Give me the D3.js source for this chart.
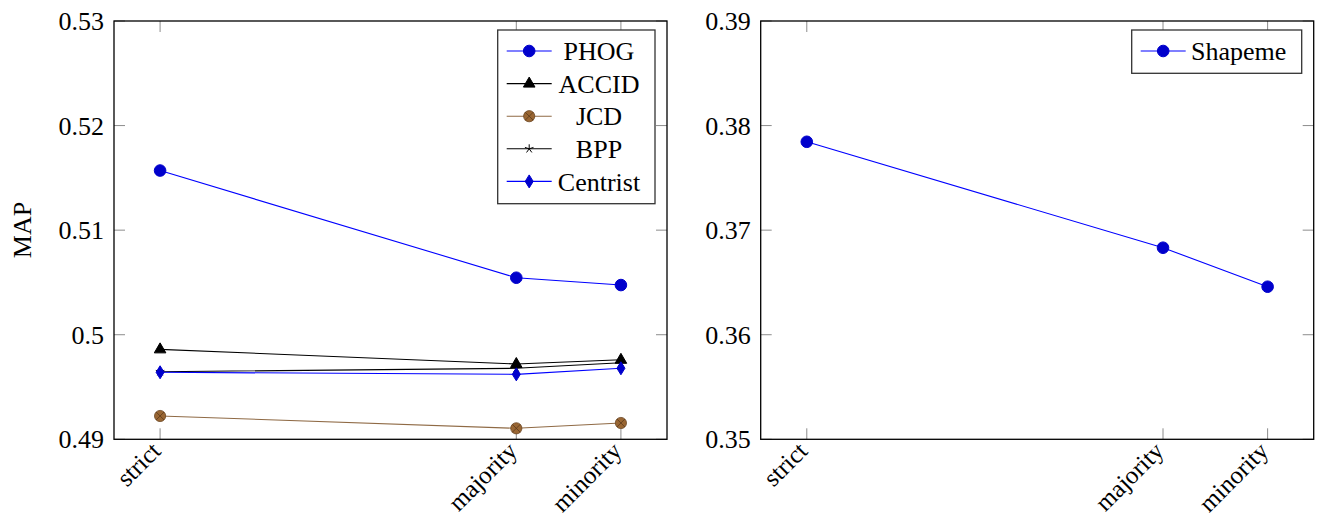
<!DOCTYPE html>
<html>
<head>
<meta charset="utf-8">
<script src="https://cdn.jsdelivr.net/npm/d3@7"></script>
<style>
  body { margin: 0; background: #fff; }
  text { font-family: "Liberation Serif", "Tinos", "Times New Roman", "DejaVu Serif", serif; fill: #000; }
</style>
</head>
<body>
<div id="chart"></div>
<script>
const ancho = 1319
const alto = 516

// datos
const categorias = ["strict", "majority", "minority"]
const posicionesX = [0, 0.773, 1]   // posicion relativa de cada categoria en el eje
const phog = [0.5157, 0.50545, 0.50475]
const accid = [0.4986, 0.4972, 0.4976]
const jcd = [0.49223, 0.49105, 0.49156]
const bpp = [0.49646, 0.49679, 0.49732]
const centrist = [0.49641, 0.49621, 0.49679]
const shapeme = [0.37845, 0.36832, 0.36459]
const ticksIzq = [0.49, 0.5, 0.51, 0.52, 0.53]
const ticksDer = [0.35, 0.36, 0.37, 0.38, 0.39]

const svg = d3.select("#chart").append("svg").attr("width", ancho).attr("height", alto)

// marcadores estilo pgfplots
function marcador(g, tipo, color, relleno) {
    if (tipo === "circle") {
        g.append("circle").attr("r", 5.8).attr("fill", relleno).attr("stroke", relleno)
    } else if (tipo === "triangle") {
        g.append("path").attr("d", "M0,-6.5L5.8,3.5L-5.8,3.5Z").attr("fill", "#000").attr("stroke", "#000")
    } else if (tipo === "otimes") {
        g.append("circle").attr("r", 5.6).attr("fill", relleno).attr("stroke", "#6b4623").attr("stroke-width", 0.8)
        g.append("path").attr("d", "M-4,-4L4,4M-4,4L4,-4").attr("stroke", "#5a3a1c").attr("stroke-width", 0.8)
    } else if (tipo === "star") {
        let d = ""
        for (let k = 0; k < 5; k++) {
            const a = -Math.PI / 2 + k * 2 * Math.PI / 5
            d += `M0,0L${(4.5 * Math.cos(a)).toFixed(2)},${(4.5 * Math.sin(a)).toFixed(2)}`
        }
        g.append("path").attr("d", d).attr("stroke", "#000").attr("stroke-width", 1).attr("fill", "none")
    } else if (tipo === "diamond") {
        g.append("path").attr("d", "M0,-6.5L4,0L0,6.5L-4,0Z").attr("fill", relleno).attr("stroke", relleno)
    }
}

function panel(cfg) {
    const g = svg.append("g")
    const extra = 0.1 * (d3.max(posicionesX) - d3.min(posicionesX))
    const x = d3.scaleLinear().domain([d3.min(posicionesX) - extra, d3.max(posicionesX) + extra]).range([cfg.x0, cfg.x1])
    const y = d3.scaleLinear().domain(cfg.dominioY).range([cfg.y1, cfg.y0])

    // ticks hacia dentro en los cuatro lados
    const ticks = g.append("g").attr("stroke", "#8c8c8c").attr("stroke-width", 1)
    cfg.ticksY.forEach(t => {
        ticks.append("line").attr("x1", cfg.x0).attr("x2", cfg.x0 + 11).attr("y1", y(t)).attr("y2", y(t))
        ticks.append("line").attr("x1", cfg.x1).attr("x2", cfg.x1 - 11).attr("y1", y(t)).attr("y2", y(t))
    })
    posicionesX.forEach(p => {
        ticks.append("line").attr("x1", x(p)).attr("x2", x(p)).attr("y1", cfg.y1).attr("y2", cfg.y1 - 11)
        ticks.append("line").attr("x1", x(p)).attr("x2", x(p)).attr("y1", cfg.y0).attr("y2", cfg.y0 + 11)
    })

    g.append("rect").attr("x", cfg.x0).attr("y", cfg.y0)
        .attr("width", cfg.x1 - cfg.x0).attr("height", cfg.y1 - cfg.y0)
        .attr("fill", "none").attr("stroke", "#000").attr("stroke-width", 1.3)

    // etiquetas eje Y
    g.selectAll(".ty").data(cfg.ticksY).enter().append("text")
        .attr("x", cfg.x0 - 10).attr("y", d => y(d)).attr("dy", "0.35em")
        .attr("text-anchor", "end").attr("font-size", 26)
        .text(d => d3.format("~g")(d))

    // etiquetas eje X rotadas
    g.selectAll(".tx").data(categorias).enter().append("text")
        .attr("transform", (d, i) => `translate(${x(posicionesX[i]) - 4},${cfg.y1 + 7}) rotate(-45)`)
        .attr("text-anchor", "end").attr("dy", "0.35em").attr("font-size", 25)
        .text(d => d)

    const linea = d3.line().x((d, i) => x(posicionesX[i])).y(d => y(d))

    cfg.series.forEach(s => {
        g.append("path").datum(s.valores).attr("d", linea)
            .attr("fill", "none").attr("stroke", s.color).attr("stroke-width", 1.1)
    })
    cfg.series.forEach(s => {
        s.valores.forEach((v, i) => {
            const m = g.append("g").attr("transform", `translate(${x(posicionesX[i])},${y(v)})`)
            marcador(m, s.marca, s.color, s.relleno)
        })
    })

    // leyenda
    const ley = cfg.leyenda
    g.append("rect").attr("x", ley.x).attr("y", ley.y).attr("width", ley.w).attr("height", ley.h)
        .attr("fill", "#fff").attr("stroke", "#333").attr("stroke-width", 1.3)
    cfg.series.forEach((s, i) => {
        const yy = ley.y + 21 + i * 32.6
        g.append("line").attr("x1", ley.x + 9).attr("x2", ley.x + 54).attr("y1", yy).attr("y2", yy)
            .attr("stroke", s.color).attr("stroke-width", 1.1)
        const m = g.append("g").attr("transform", `translate(${ley.x + 31.5},${yy})`)
        marcador(m, s.marca, s.color, s.relleno)
        g.append("text").attr("x", ley.textoX).attr("y", yy).attr("dy", "0.35em")
            .attr("text-anchor", ley.anclaje).attr("font-size", 26).text(s.nombre)
    })
}

panel({
    x0: 114, x1: 667, y0: 21, y1: 439.3,
    dominioY: [0.49, 0.53], ticksY: ticksIzq,
    series: [
        { nombre: "PHOG", valores: phog, color: "#0000ff", relleno: "#0000cc", marca: "circle" },
        { nombre: "ACCID", valores: accid, color: "#000", relleno: "#000", marca: "triangle" },
        { nombre: "JCD", valores: jcd, color: "#8f6a45", relleno: "#996633", marca: "otimes" },
        { nombre: "BPP", valores: bpp, color: "#000", relleno: "#000", marca: "star" },
        { nombre: "Centrist", valores: centrist, color: "#0000ff", relleno: "#0000cc", marca: "diamond" }
    ],
    leyenda: { x: 497.7, y: 30, w: 157.3, h: 173.7, textoX: 599, anclaje: "middle" }
})

panel({
    x0: 760.7, x1: 1313.7, y0: 21, y1: 439.3,
    dominioY: [0.35, 0.39], ticksY: ticksDer,
    series: [
        { nombre: "Shapeme", valores: shapeme, color: "#0000ff", relleno: "#0000cc", marca: "circle" }
    ],
    leyenda: { x: 1131.7, y: 30, w: 170, h: 43.3, textoX: 1191, anclaje: "start" }
})

svg.append("text").attr("transform", "translate(31,230) rotate(-90)")
    .attr("text-anchor", "middle").attr("font-size", 26).text("MAP")
</script>
</body>
</html>
